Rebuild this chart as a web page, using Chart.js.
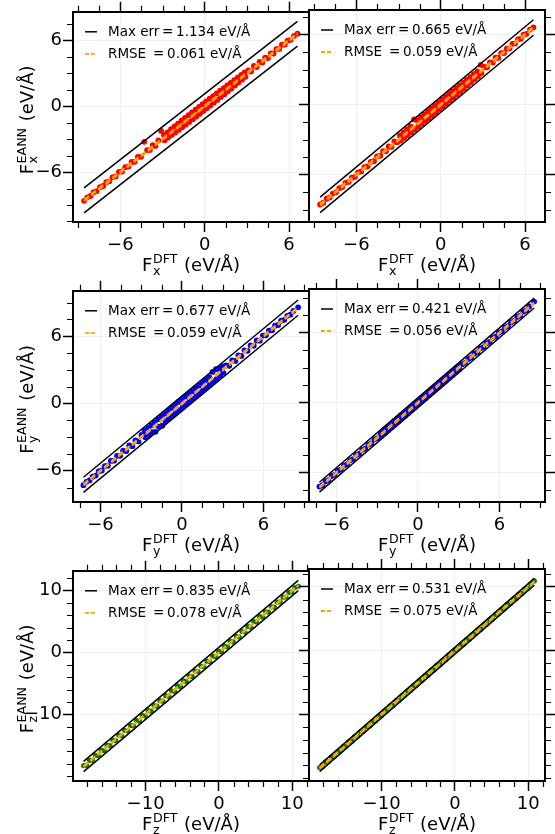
<!DOCTYPE html>
<html>
<head>
<meta charset="utf-8">
<title>EANN vs DFT forces</title>
<script src="https://cdn.jsdelivr.net/npm/chart.js@4.4.1/dist/chart.umd.min.js"></script>
<style>
  html, body { margin: 0; padding: 0; background: #fff; }
  #fig { position: relative; width: 555px; height: 834px; overflow: hidden; }
  #fig canvas { position: absolute; }
</style>
</head>
<body>
<div id="fig">
  <canvas id="p1"></canvas>
  <canvas id="p2"></canvas>
  <canvas id="p3"></canvas>
  <canvas id="p4"></canvas>
  <canvas id="p5"></canvas>
  <canvas id="p6"></canvas>
</div>
<script>
////// data
const fxDft = [-8.58, -8.35, -8.12, -7.9, -7.68, -7.45, -7.22, -7.0, -6.78, -6.55, -6.33, -6.1, -5.88, -5.65, -5.43, -5.2, -4.98, -4.75, -4.53, -4.3, -4.1, -3.9, -3.7, -3.5, -3.3, -3.1,
  -2.9, -2.85, -2.65, -2.6, -2.4, -2.35, -2.15, -2.1, -1.9, -1.85, -1.65, -1.6, -1.4, -1.35, -1.15, -1.1, -0.9, -0.85, -0.65, -0.6, -0.4, -0.35, -0.15, -0.1,
  0.1, 0.15, 0.35, 0.4, 0.6, 0.65, 0.85, 0.9, 1.1, 1.15, 1.35, 1.4, 1.6, 1.65, 1.85, 1.9, 2.1, 2.15, 2.35, 2.4, 2.6, 2.65, 2.85, 2.9,
  3.1, 3.3, 3.5, 3.7, 3.9, 4.1, 4.3, 4.5, 4.7, 4.9, 5.1, 5.3, 5.5, 5.7, 5.9, 6.1, 6.35, 6.6];
const fxEannA = [-8.62, -8.3, -8.18, -7.84, -7.73, -7.38, -7.27, -6.93, -6.84, -6.47, -6.4, -5.98, -5.95, -5.56, -5.5, -5.08, -5.06, -4.62, -4.61, -3.25, -4.0, -3.98, -3.55, -3.62, -3.12, -2.25,
  -2.62, -3.1, -2.38, -2.86, -2.1, -2.62, -1.84, -2.4, -1.58, -2.16, -1.32, -1.92, -1.07, -1.68, -0.82, -1.43, -0.57, -1.18, -0.32, -0.94, -0.07, -0.69, 0.18, -0.44,
  0.43, -0.19, 0.68, 0.06, 0.92, 0.32, 1.17, 0.57, 1.41, 0.83, 1.65, 1.09, 1.89, 1.36, 2.13, 1.62, 2.37, 1.89, 2.6, 2.15, 2.84, 2.42, 3.07, 2.68,
  3.25, 3.16, 3.66, 3.56, 4.04, 3.97, 4.42, 4.38, 4.82, 4.8, 5.2, 5.22, 5.6, 5.62, 5.98, 6.04, 6.4, 6.6];
const fxEannB = [-8.55, -8.4, -8.06, -7.95, -7.62, -7.5, -7.15, -7.06, -6.7, -6.62, -6.26, -6.18, -5.8, -5.72, -5.35, -5.28, -4.9, -4.84, -4.44, -4.38, -3.98, -4.0, -3.58, -3.62, -3.16, -3.22,
  -2.66, -3.08, -2.4, -2.84, -2.13, -2.6, -1.87, -2.36, -1.27, -2.12, -1.35, -1.88, -1.09, -1.64, -0.84, -1.4, -0.58, -1.15, -0.33, -0.9, -0.08, -0.65, 0.17, -0.4,
  0.42, -0.15, 0.67, 0.1, 0.91, 0.36, 1.16, 0.61, 1.4, 0.87, 1.64, 1.12, 1.88, 1.38, 2.12, 1.64, 2.36, 1.91, 2.6, 2.17, 2.84, 2.43, 3.4, 2.7,
  3.22, 3.2, 3.62, 3.6, 4.02, 4.0, 4.4, 4.42, 4.8, 4.82, 5.2, 5.24, 5.58, 5.64, 5.98, 6.06, 6.42, 6.62];

const fyDft = [-7.25, -7.03, -6.8, -6.58, -6.35, -6.13, -5.9, -5.68, -5.45, -5.23, -5.0, -4.78, -4.55, -4.33, -4.1, -3.88, -3.65, -3.43, -3.2, -2.98,
  -2.75, -2.7, -2.5, -2.45, -2.25, -2.2, -2.0, -1.95, -1.75, -1.7, -1.5, -1.45, -1.25, -1.2, -1.0, -0.95, -0.75, -0.7, -0.5, -0.45, -0.25, -0.2,
  0.0, 0.05, 0.25, 0.3, 0.5, 0.55, 0.75, 0.8, 1.0, 1.05, 1.25, 1.3, 1.5, 1.55, 1.75, 1.8, 2.0, 2.05, 2.25, 2.3, 2.5, 2.55, 2.75, 2.8, 3.0, 3.05,
  3.25, 3.48, 3.7, 3.93, 4.15, 4.38, 4.6, 4.83, 5.05, 5.28, 5.5, 5.73, 5.95, 6.18, 6.4, 6.63, 6.85, 7.08, 7.3, 7.53, 7.75, 7.98, 8.2, 8.55];
const fyEannA = [-7.28, -6.98, -6.86, -6.52, -6.42, -6.05, -5.97, -5.58, -5.54, -5.12, -5.1, -4.66, -4.66, -4.2, -4.24, -3.74, -3.8, -3.28, -3.38, -2.8,
  -2.45, -3.0, -2.2, -2.78, -1.94, -2.55, -1.66, -2.52, -1.4, -2.06, -1.14, -1.98, -0.9, -1.58, -0.64, -1.32, -0.38, -1.08, -0.12, -0.84, 0.14, -0.58,
  0.38, -0.32, 0.62, -0.06, 0.86, 0.18, 1.1, 0.42, 1.36, 0.68, 1.6, 0.92, 1.84, 1.18, 2.1, 1.42, 2.36, 1.68, 2.82, 1.94, 3.06, 2.2, 3.1, 2.46, 3.32, 2.74,
  3.4, 3.36, 3.84, 3.8, 4.3, 4.24, 4.74, 4.7, 5.18, 5.16, 5.62, 5.6, 6.06, 6.08, 6.5, 6.54, 6.94, 7.0, 7.38, 7.46, 7.82, 7.92, 8.26, 8.58];
const fyEannB = [-7.2, -7.08, -6.74, -6.64, -6.29, -6.19, -5.84, -5.74, -5.39, -5.29, -4.94, -4.84, -4.49, -4.39, -4.04, -3.94, -3.59, -3.49, -3.14, -3.04,
  -2.59, -2.86, -2.34, -2.61, -2.09, -2.36, -1.84, -2.11, -1.59, -1.86, -1.34, -1.61, -1.09, -1.36, -0.84, -1.11, -0.59, -0.86, -0.34, -0.61, -0.09, -0.36,
  0.16, -0.11, 0.41, 0.14, 0.66, 0.39, 0.91, 0.64, 1.16, 0.89, 1.41, 1.14, 1.66, 1.39, 1.91, 1.64, 2.16, 1.89, 2.41, 2.14, 2.66, 2.39, 2.91, 2.64, 3.16, 2.89,
  3.31, 3.42, 3.76, 3.87, 4.21, 4.32, 4.66, 4.77, 5.11, 5.22, 5.56, 5.67, 6.01, 6.12, 6.46, 6.57, 6.91, 7.02, 7.36, 7.47, 7.81, 7.92, 8.26, 8.68];

const fzDft = [-18.45, -18.05, -17.65, -17.25, -16.85, -16.45, -16.05, -15.65, -15.25, -14.85, -14.45, -14.05, -13.65, -13.25, -12.85, -12.45, -12.05, -11.65, -11.25, -10.85,
  -10.45, -10.05, -9.65, -9.25, -8.85, -8.45, -8.05, -7.65, -7.25, -6.85, -6.45, -6.05, -5.65, -5.25, -4.85, -4.45, -4.05, -3.65, -3.25, -2.85,
  -2.45, -2.05, -1.65, -1.25, -0.85, -0.45, -0.05, 0.35, 0.75, 1.15, 1.55, 1.95, 2.35, 2.75, 3.15, 3.55, 3.95, 4.35, 4.75, 5.15,
  5.55, 5.95, 6.35, 6.75, 7.15, 7.55, 7.95, 8.35, 8.75, 9.15, 9.55, 9.95, 10.35, 10.82];
const fzEannA = [-18.3, -18.26, -17.45, -17.46, -16.64, -16.68, -15.84, -15.88, -15.03, -15.07, -14.22, -14.3, -13.42, -13.48, -12.6, -12.7, -11.82, -11.88, -11.02, -11.1,
  -10.2, -10.3, -9.4, -9.5, -8.6, -8.7, -7.8, -7.9, -7.0, -7.1, -6.2, -6.3, -5.42, -5.5, -4.62, -4.7, -3.82, -3.9, -3.02, -3.1,
  -2.2, -2.3, -1.4, -1.5, -0.6, -0.7, 0.2, 0.1, 1.0, 0.9, 1.78, 1.7, 2.58, 2.5, 3.38, 3.3, 4.18, 4.1, 4.98, 4.92,
  5.78, 5.72, 6.56, 6.52, 7.36, 7.34, 8.14, 8.16, 8.94, 8.96, 9.72, 9.78, 10.5, 10.7];
const fzEannB = [-18.35, -18.2, -17.5, -17.4, -16.7, -16.6, -15.9, -15.8, -15.1, -15.0, -14.3, -14.2, -13.5, -13.4, -12.7, -12.6, -11.9, -11.8, -11.1, -11.0,
  -10.3, -10.2, -9.5, -9.4, -8.7, -8.6, -7.9, -7.8, -7.1, -7.0, -6.3, -6.2, -5.5, -5.4, -4.7, -4.6, -3.9, -3.8, -3.1, -3.0,
  -2.3, -2.2, -1.5, -1.4, -0.7, -0.6, 0.1, 0.2, 0.9, 1.0, 1.7, 1.8, 2.5, 2.6, 3.3, 3.4, 4.1, 4.2, 4.9, 5.0,
  5.7, 5.8, 6.5, 6.6, 7.3, 7.4, 8.1, 8.2, 8.9, 9.0, 9.7, 9.8, 10.5, 10.95];

// one entry per panel: row by row, left then right
const maxErr = [1.134, 0.665, 0.677, 0.421, 0.835, 0.531];
const rmse = [0.061, 0.059, 0.059, 0.056, 0.078, 0.075];
const xLims = [[-9.37, 7.42], [-9.37, 7.42], [-8.02, 9.35], [-8.02, 9.35], [-19.9, 12.28], [-19.9, 12.28]];
const yLims = [[-10.55, 8.6], [-10.05, 8.1], [-8.78, 10.05], [-8.52, 9.76], [-20.8, 13.2], [-20.45, 12.82]];

// tick labels
const fxTicks = [-6, 0, 6];
const fyTicks = [-6, 0, 6];
const fzTicks = [-10, 0, 10];

////// layout / styles
const rowTop = [10, 289, 569];
const rowH = [212, 213, 212];
const FONT = 'DejaVu Sans';

const panels = [
  { id: 'p1', comp: 'x', dft: fxDft, eann: fxEannA, ticks: fxTicks, minor: 1.5, color: '#ff0000', r: 2.9 },
  { id: 'p2', comp: 'x', dft: fxDft, eann: fxEannB, ticks: fxTicks, minor: 1.5, color: '#ff0000', r: 2.9 },
  { id: 'p3', comp: 'y', dft: fyDft, eann: fyEannA, ticks: fyTicks, minor: 1.5, color: '#0000ff', r: 2.9 },
  { id: 'p4', comp: 'y', dft: fyDft, eann: fyEannB, ticks: fyTicks, minor: 1.5, color: '#0000ff', r: 2.9 },
  { id: 'p5', comp: 'z', dft: fzDft, eann: fzEannA, ticks: fzTicks, minor: 2, color: '#008000', r: 2.6 },
  { id: 'p6', comp: 'z', dft: fzDft, eann: fzEannB, ticks: fzTicks, minor: 2, color: '#008000', r: 2.6 },
];

Chart.defaults.font.family = FONT;
Chart.defaults.color = '#000';

const fmt = (v) => (v < 0 ? '\u2212' + (-v) : String(v));

function minorValues(lo, hi, step, majors) {
  const out = [];
  for (let k = Math.ceil(lo / step); k * step <= hi; k++) {
    const v = k * step;
    if (!majors.some((m) => Math.abs(m - v) < 1e-6)) out.push(v);
  }
  return out;
}

// F_sub^sup (eV/Å) written as mathtext would
function mathLabel(ctx, sub, sup, x, y, rotated) {
  ctx.save();
  ctx.translate(x, y);
  if (rotated) ctx.rotate(-Math.PI / 2);
  const big = '18px "' + FONT + '"';
  const small = '12.6px "' + FONT + '"';
  ctx.font = big;
  const wF = ctx.measureText('F').width;
  const rest = ' (eV/\u00c5)';
  const wRest = ctx.measureText(rest).width;
  ctx.font = small;
  const wS = Math.max(ctx.measureText(sub).width, ctx.measureText(sup).width) + 1;
  let cx = -(wF + 0.5 + wS + wRest) / 2;
  ctx.fillStyle = '#000';
  ctx.textAlign = 'left';
  ctx.textBaseline = 'alphabetic';
  ctx.font = big;
  ctx.fillText('F', cx, 0);
  cx += wF + 0.5;
  ctx.font = small;
  ctx.fillText(sup, cx, -7.4);
  ctx.fillText(sub, cx, 4.3);
  cx += wS;
  ctx.font = big;
  ctx.fillText(rest, cx, 0);
  ctx.restore();
}

// minor ticks, legend and axis titles
const decor = {
  id: 'decor',
  afterDraw(chart, args, o) {
    const { ctx, chartArea: a } = chart;
    const sx = chart.scales.x;
    const sy = chart.scales.y;
    ctx.save();
    ctx.strokeStyle = '#000';
    ctx.lineWidth = 1.2;
    ctx.beginPath();
    minorValues(sx.min, sx.max, o.minor, o.majors).forEach((v) => {
      const p = Math.round(sx.getPixelForValue(v)) + 0.5;
      ctx.moveTo(p, a.bottom); ctx.lineTo(p, a.bottom + 6);
      ctx.moveTo(p, a.top); ctx.lineTo(p, a.top - 6);
    });
    minorValues(sy.min, sy.max, o.minor, o.majors).forEach((v) => {
      const p = Math.round(sy.getPixelForValue(v)) + 0.5;
      ctx.moveTo(a.left, p); ctx.lineTo(a.left - 6, p);
      if (o.rightTicks) { ctx.moveTo(a.right, p); ctx.lineTo(a.right + 6, p); }
    });
    ctx.stroke();

    // legend
    ctx.font = '13.5px "' + FONT + '"';
    ctx.textBaseline = 'middle';
    ctx.textAlign = 'left';
    ctx.fillStyle = '#000';
    o.legend.forEach((row, i) => {
      const y = a.top + 20 + 22 * i;
      ctx.strokeStyle = row.color;
      ctx.lineWidth = row.width;
      ctx.setLineDash(row.dash);
      ctx.beginPath();
      ctx.moveTo(a.left + 12, y);
      ctx.lineTo(a.left + 24, y);
      ctx.stroke();
      ctx.setLineDash([]);
      ctx.fillText(row.text, a.left + 35, y + 0.5);
    });
    ctx.restore();

    mathLabel(ctx, o.comp, 'DFT', (a.left + a.right) / 2, a.bottom + 48.7, false);
    if (o.yTitle) mathLabel(ctx, o.comp, 'EANN', a.left - 40, (a.top + a.bottom) / 2 + 3, true);
  },
};

function axis(pos, lim, ticks, labels, size, onArea) {
  return {
    type: 'linear',
    position: pos,
    min: lim[0],
    max: lim[1],
    afterBuildTicks: (s) => { s.ticks = ticks.map((v) => ({ value: v })); },
    afterFit: (s) => { if (s.isHorizontal()) s.height = size; else s.width = size; },
    ticks: { display: labels, color: '#000', font: { size: 18 }, padding: pos === 'bottom' ? 3 : 1, callback: fmt, maxRotation: 0, autoSkip: false },
    grid: { drawOnChartArea: onArea, color: '#ececec', lineWidth: 0.8, tickColor: '#000', tickLength: 10, tickWidth: 1.5 },
    border: { color: '#000', width: 2 },
  };
}

panels.forEach((p, k) => {
  const row = Math.floor(k / 2);
  const leftCol = k % 2 === 0;
  const canvas = document.getElementById(p.id);
  canvas.width = leftCol ? 320 : 256;
  canvas.height = 10 + rowH[row] + 60;
  canvas.style.left = (leftCol ? 0 : 299) + 'px';
  canvas.style.top = (rowTop[row] - 10) + 'px';

  const pts = p.dft.map((x, i) => ({ x, y: p.eann[i] }));
  const lo = Math.min(...p.dft);
  const hi = Math.max(...p.dft);
  const e = maxErr[k];
  const r = rmse[k];
  const seg = (d) => [{ x: lo, y: lo + d }, { x: hi, y: hi + d }];
  const orangeLine = (d) => ({ data: seg(d), showLine: true, borderColor: '#ffa500', borderWidth: 2, borderDash: [6, 3], pointRadius: 0, order: 0 });
  const blackLine = (d) => ({ data: seg(d), showLine: true, borderColor: '#000', borderWidth: 1.5, pointRadius: 0, order: 1 });

  const scales = {
    x: axis('bottom', xLims[k], p.ticks, true, 60, true),
    x2: axis('top', xLims[k], p.ticks, false, 10, false),
    y: axis('left', yLims[k], p.ticks, leftCol, leftCol ? 73 : 10, true),
  };
  if (!leftCol) scales.y2 = axis('right', yLims[k], p.ticks, false, 10, false);

  new Chart(canvas, {
    type: 'scatter',
    data: {
      datasets: [
        orangeLine(r), orangeLine(-r),
        blackLine(e), blackLine(-e),
        { data: pts, backgroundColor: p.color, borderColor: p.color, borderWidth: 0, pointRadius: p.r, order: 2 },
      ],
    },
    options: {
      responsive: false,
      animation: false,
      events: [],
      layout: { autoPadding: false, padding: { left: 0, top: 0, bottom: 0, right: leftCol ? 11 : 0 } },
      plugins: {
        legend: { display: false },
        tooltip: { enabled: false },
        decor: {
          comp: p.comp,
          minor: p.minor,
          majors: p.ticks,
          rightTicks: !leftCol,
          yTitle: leftCol,
          legend: [
            { text: 'Max err\u2009=\u2009' + e.toFixed(3) + ' eV/\u00c5', color: '#000', width: 1.5, dash: [] },
            { text: 'RMSE \u2009=\u2009' + r.toFixed(3) + ' eV/\u00c5', color: '#ffa500', width: 1.8, dash: [4, 2] },
          ],
        },
      },
      scales,
    },
    plugins: [decor],
  });
});
</script>
</body>
</html>
